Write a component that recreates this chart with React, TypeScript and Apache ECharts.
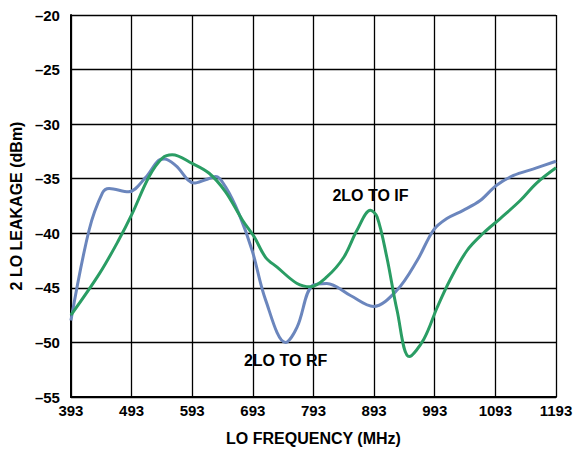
import React, { useEffect, useRef } from "react";
import * as echarts from "echarts";

const X_MIN = 393;
const X_MAX = 1193;
const xTicks = [393, 493, 593, 693, 793, 893, 993, 1093, 1193];
const yTicks = [-55, -50, -45, -40, -35, -30, -25, -20];

const rfFreq = [393, 423, 445, 456, 488, 516, 538, 547, 566, 596, 615, 632, 648, 670, 692, 714, 747, 766, 791, 815, 854, 892, 931, 964, 991, 1013, 1040, 1068, 1095, 1123, 1156, 1193];
const rfLeak = [-48.0, -39.7, -36.3, -35.9, -36.2, -34.9, -33.3, -33.2, -33.8, -35.4, -35.1, -34.8, -35.75, -38.2, -41.6, -46.1, -50.0, -48.6, -44.8, -44.6, -45.7, -46.7, -45.2, -42.5, -39.7, -38.65, -37.9, -37.0, -35.6, -34.7, -34.1, -33.4];

const ifFreq = [393, 440, 472, 494, 522, 544, 560, 593, 621, 648, 676, 695, 714, 733, 766, 788, 815, 843, 865, 887, 898, 914, 931, 951, 975, 997, 1018, 1046, 1073, 1101, 1134, 1161, 1193];
const ifLeak = [-47.5, -43.7, -40.6, -38.2, -34.8, -33.1, -32.8, -33.6, -34.5, -36.2, -38.8, -40.3, -42.2, -43.1, -44.6, -44.9, -44.0, -42.2, -39.7, -37.9, -38.5, -42.2, -47.1, -51.3, -49.7, -46.8, -44.3, -41.6, -40.0, -38.65, -37.0, -35.4, -34.0];

const labelIF = { text: "2LO TO IF", freq: 887, db: -36.5 };
const labelRF = { text: "2LO TO RF", freq: 747, db: -51.65 };

const FONT = "'Liberation Sans', Arial, Helvetica, sans-serif";

export default function App() {
  const ref = useRef<HTMLDivElement>(null);
  useEffect(() => {
    if (!ref.current) return;
    const chart = echarts.init(ref.current, undefined, { renderer: "svg" });
    const toPts = (f: number[], v: number[]) => f.map((x, i) => [x - X_MIN, v[i]]);
    const mk = (l: { text: string; freq: number; db: number }) => ({
      coord: [l.freq - X_MIN, l.db],
      symbol: "circle",
      symbolSize: 0,
      label: {
        show: true,
        position: "inside",
        formatter: l.text,
        color: "#000",
        fontSize: 16,
        fontWeight: "bold",
        fontFamily: FONT,
      },
    });
    chart.setOption({
      animation: false,
      backgroundColor: "#fff",
      grid: { left: 70, right: 25, top: 15, bottom: 55 },
      xAxis: {
        type: "value",
        min: 0,
        max: X_MAX - X_MIN,
        interval: 100,
        name: "LO FREQUENCY (MHz)",
        nameLocation: "middle",
        nameGap: 33,
        nameTextStyle: { fontSize: 16, fontWeight: "bold", color: "#000", fontFamily: FONT },
        axisLine: { show: true, lineStyle: { color: "#000", width: 2 } },
        axisTick: { show: false },
        splitLine: { show: true, lineStyle: { color: "#000", width: 1.3 } },
        axisLabel: {
          color: "#000",
          fontSize: 15,
          fontWeight: "bold",
          fontFamily: FONT,
          margin: 6,
          formatter: (v: number) => {
            const f = Math.round(v + X_MIN);
            return xTicks.includes(f) ? String(f) : "";
          },
        },
      },
      yAxis: {
        type: "value",
        min: yTicks[0],
        max: yTicks[yTicks.length - 1],
        interval: 5,
        name: "2 LO LEAKAGE (dBm)",
        nameLocation: "middle",
        nameGap: 36,
        nameRotate: 90,
        nameTextStyle: { fontSize: 16, fontWeight: "bold", color: "#000", fontFamily: FONT },
        axisLine: { show: true, lineStyle: { color: "#000", width: 2 } },
        axisTick: { show: false },
        splitLine: { show: true, lineStyle: { color: "#000", width: 1.3 } },
        axisLabel: {
          color: "#000",
          fontSize: 15,
          fontWeight: "bold",
          fontFamily: FONT,
          margin: 11,
          formatter: (v: number) => String(v).replace("-", "\u2013"),
        },
      },
      series: [
        {
          name: "2LO TO RF",
          type: "line",
          data: toPts(rfFreq, rfLeak),
          smooth: 0.35,
          showSymbol: false,
          lineStyle: { color: "#6b86bd", width: 3 },
          markPoint: { data: [mk(labelRF)] },
        },
        {
          name: "2LO TO IF",
          type: "line",
          data: toPts(ifFreq, ifLeak),
          smooth: 0.35,
          showSymbol: false,
          lineStyle: { color: "#2a9d64", width: 3 },
          markPoint: { data: [mk(labelIF)] },
        },
      ],
    });
    return () => chart.dispose();
  }, []);
  return (
    <div
      ref={ref}
      style={{ position: "fixed", left: 0, top: 0, width: 581, height: 452 }}
    />
  );
}
